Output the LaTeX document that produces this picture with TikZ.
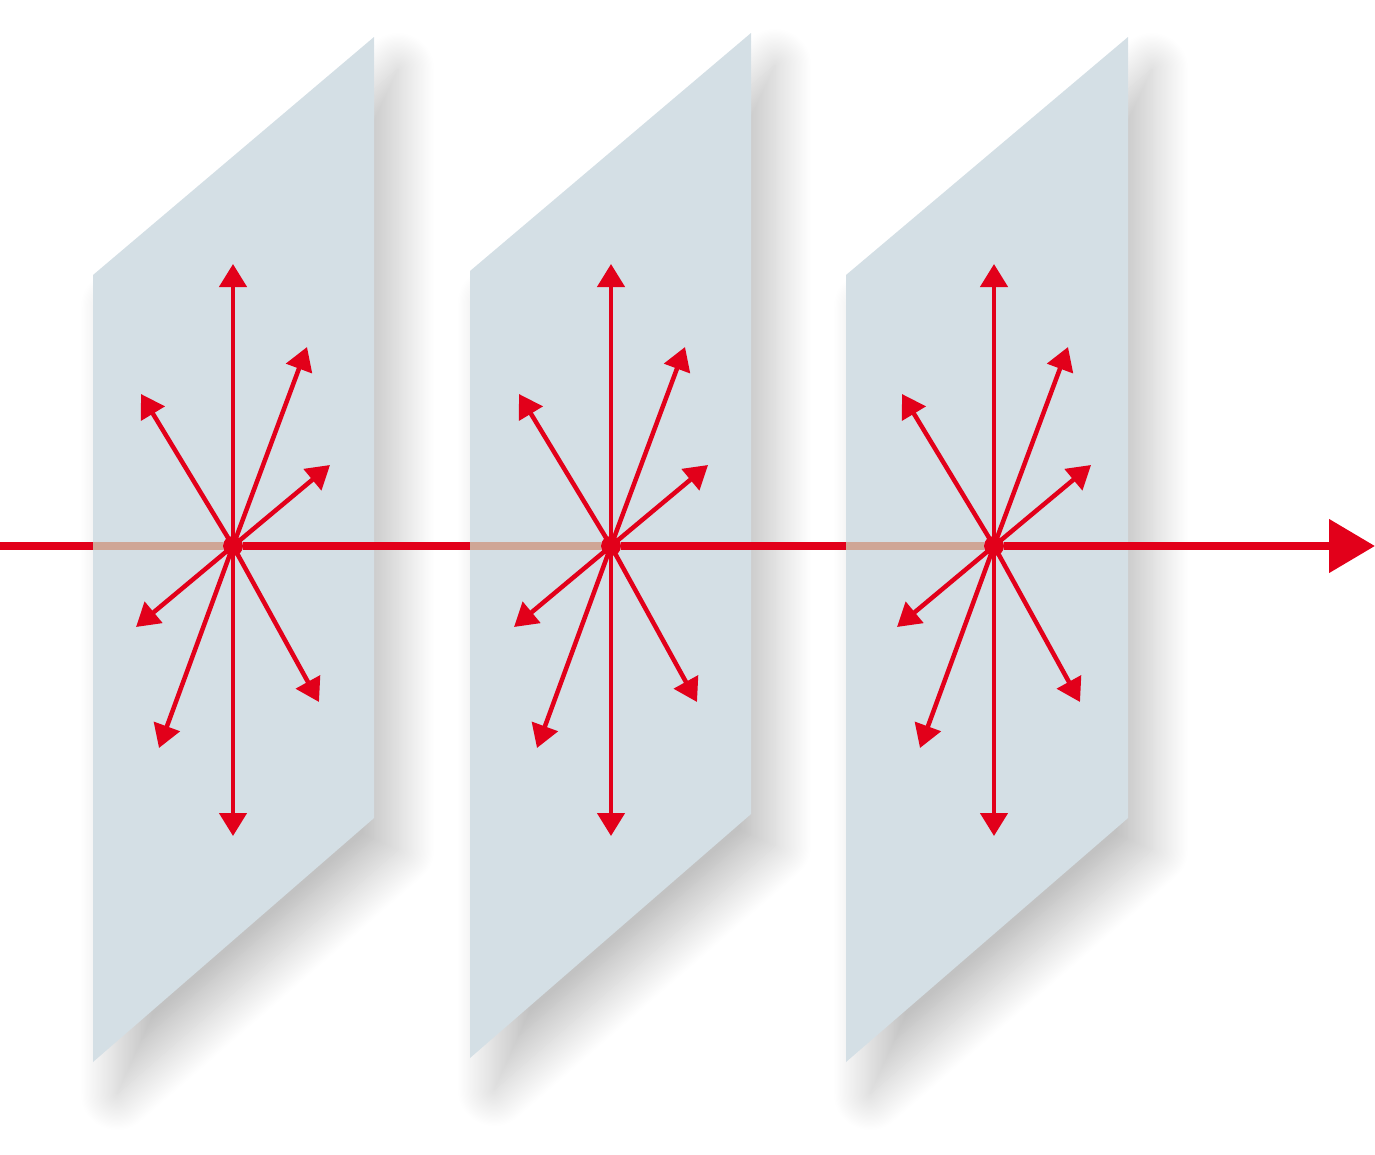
\documentclass[tikz,border=0pt]{standalone}
\usetikzlibrary{arrows.meta,shadows.blur}
\definecolor{planegray}{RGB}{212,223,229}
\definecolor{rayred}{RGB}{226,0,26}
\definecolor{behindred}{RGB}{207,166,150}
\tikzset{
  plane/.style={fill=planegray,blur shadow={shadow xshift=24pt,shadow yshift=-32pt,
    shadow blur radius=36pt,shadow blur steps=30,shadow opacity=24}},
  ray/.style={rayred,line width=4.5pt,-{Triangle[length=23pt,width=27pt]}},
  axis/.style={rayred,line width=8pt},
  behind/.style={behindred,line width=8pt},
  spot/.style={circle,fill=rayred,inner sep=0pt,minimum size=20pt}
}
\begin{document}
\begin{tikzpicture}[x=1pt,y=-1pt]
%  \draw[help lines,step=100] (0,0) grid (1375,1154);
    \useasboundingbox (0,0) rectangle (1375,1154);
    \foreach \lx/\ly/\rx/\ry in {93/275/374/37, 470/271/751/33, 846/275/1128/37}
      \fill[plane] (\lx,\ly) -- (\rx,\ry) -- (\rx,\ry+781) -- (\lx,\ly+787) -- cycle;
    \path (0,546) coordinate(start)
    (93,546) coordinate(l1)
    (470,546) coordinate(l2)
    (846,546) coordinate(l3)
    (1375,546) coordinate(end)
    (233,546) node(c1) [spot] {}
    (611,546) node(c2) [spot] {}
    (994,546) node(c3) [spot] {};
    \draw[behind] (l1) -- (c1);
    \draw[behind] (l2) -- (c2);
    \draw[behind] (l3) -- (c3);
    \draw[axis] (start) -- (l1);
    \draw[axis] (c1) -- (l2);
    \draw[axis] (c2) -- (l3);
    \draw[axis,-{Triangle[length=46pt,width=52pt]}] (c3) -- (end);
    \foreach \c in {c1,c2,c3}
      \foreach \dx/\dy [count=\i] in {0/-282, 0/290, 74/-199, 97/-81, -92/-152, -97/81, -74/202, 86/156}
        \draw[ray] (\c.center) -- ++(\dx,\dy) coordinate(\c tip\i);
\end{tikzpicture}
\end{document}
